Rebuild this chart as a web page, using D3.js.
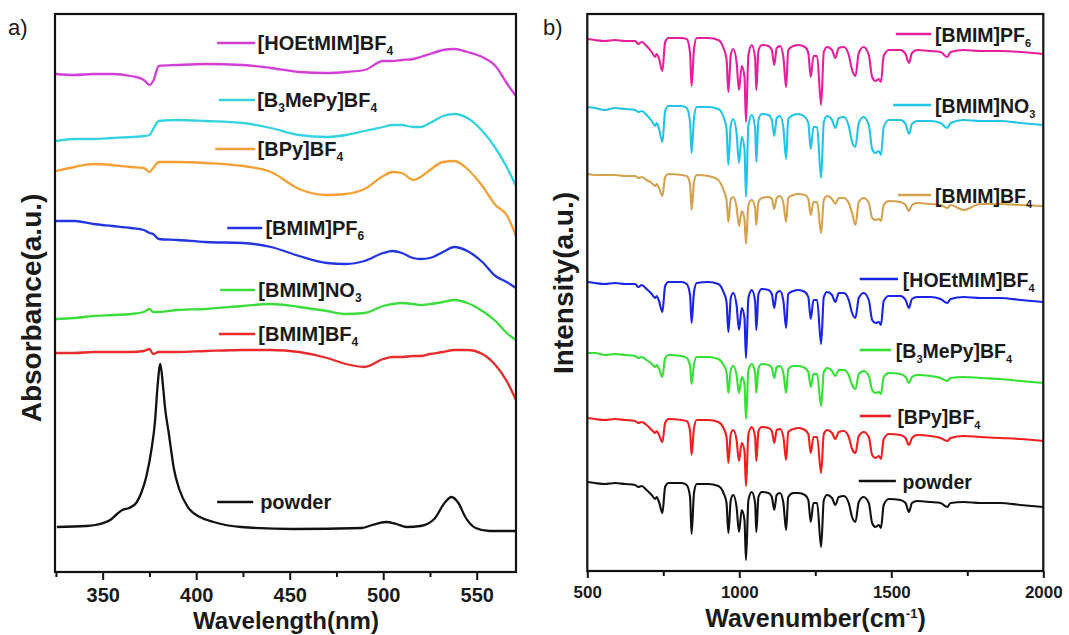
<!DOCTYPE html>
<html><head><meta charset="utf-8">
<script src="https://cdn.jsdelivr.net/npm/d3@7"></script>
<style>
body{margin:0;background:#fff}
svg text{font-family:"Liberation Sans",Arial,Helvetica,sans-serif;fill:#1a1a1a}
</style>
</head><body>
<svg id="c" width="1069" height="635"></svg>
<script>
// ---------- Panel a : UV-vis absorbance (offset spectra) ----------
const uvWavelength = [325,335,345,355,365,372,375,377,380,390,405,425,440,455,470,480,490,500,505,510,516,520,525,532,538,545,553,560,566,571];
const uvHOEtMIM = [49.8,49.7,49.8,49.8,49.6,49.2,48.7,49.1,50.6,50.7,50.8,50.7,50.4,50.0,49.9,50.0,50.2,51.1,51.1,51.2,51.3,51.5,51.8,52.2,52.3,52.0,51.5,50.6,48.9,47.6];
const uvB3MePy = [43.1,43.3,43.3,43.4,43.5,43.6,43.7,44.3,45.1,45.2,45.1,44.9,44.4,43.7,43.5,43.7,44.1,44.5,44.7,44.7,44.5,44.5,44.9,45.6,45.8,45.4,44.1,42.4,40.5,38.6];
const uvBPy = [40.1,40.5,40.8,40.7,40.5,40.4,40.0,40.4,41.0,41.0,40.9,40.6,40.0,38.3,37.7,37.8,38.3,39.6,40.0,39.9,39.2,39.5,40.2,41.0,41.1,40.3,38.6,36.7,35.7,33.6];
const uvBMIMPF6 = [35.1,35.1,34.8,34.6,34.4,34.2,33.9,33.8,33.3,33.2,33.0,32.9,32.5,31.6,30.9,30.8,31.1,31.9,32.1,31.9,31.4,31.3,31.4,32.0,32.5,32.1,31.0,29.6,29.0,28.4];
const uvBMIMNO3 = [25.3,25.4,25.6,25.7,25.8,26.0,26.3,26.0,26.0,26.2,26.3,26.6,26.8,26.5,26.1,25.8,25.9,26.6,26.8,26.9,26.8,26.7,26.8,27.0,27.2,26.9,26.1,25.1,23.9,23.2];
const uvBMIMBF4 = [21.9,21.9,22.0,22.0,22.0,22.1,22.3,21.8,22.0,22.0,22.1,22.2,22.2,22.0,21.4,20.8,20.5,21.3,21.5,21.5,21.6,21.6,21.8,22.0,22.2,22.2,21.8,20.7,19.1,17.2];
const powderWavelength = [325.5,341,348.5,354,357.7,360.5,364.2,367.9,370.6,373.4,376.2,378,379.3,380.8,382.3,383.3,385.4,388.1,390.9,395.5,402,409.3,424,452,488.6,494.1,501.5,507,512.6,519.9,527.3,532.8,536.5,540.2,543.9,549.4,556.8,571];
const powderAbs = [4.5,4.6,4.8,5.2,5.8,6.2,6.4,6.9,7.9,9.6,12.4,15.1,18.5,20.8,18.5,16.5,13.8,10.3,8.3,6.5,5.5,5.0,4.5,4.3,4.4,4.7,5.0,4.8,4.5,4.6,5.3,6.9,7.5,6.9,5.5,4.4,4.1,4.1];
const uvTicks = [350,400,450,500,550];
const uvMinorTicks = [325,375,425,475,525];

// ---------- Panel b : FTIR (offset spectra) ----------
const irWavenumber = [500,525,558,591,624,657,668,679,695,712,723,728,736,747,756,767,810,827,838,843,851,860,898,931,948,958,964,972,980,991,999,1008,1017,1022,1030,1041,1052,1056,1063,1074,1096,1107,1115,1123,1134,1145,1154,1161,1178,1194,1216,1227,1235,1244,1256,1269,1278,1289,1305,1316,1327,1344,1360,1371,1382,1393,1409,1426,1437,1448,1459,1466,1475,1492,1530,1547,1558,1568,1585,1629,1662,1684,1695,1738,1793,1859,1925,2000];
const irBMIMPF6 = [53.2,53.1,53.0,53.1,53.0,53.0,52.7,52.9,52.5,51.9,51.4,51.7,51.2,50.0,52.9,53.3,53.3,53.2,51.8,48.5,52.2,53.3,53.3,53.1,52.3,51.2,47.9,51.6,52.2,50.9,48.1,50.5,49.4,44.9,51.6,52.6,51.3,48.1,52.0,52.6,52.5,52.1,50.6,52.3,52.5,51.4,48.4,52.1,52.5,52.6,52.4,51.8,49.4,51.5,51.5,46.6,51.9,52.4,52.1,51.3,52.3,52.4,51.6,50.1,49.5,51.8,52.4,51.6,49.4,49.0,49.2,48.9,51.5,52.1,52.1,51.7,50.8,51.8,52.1,52.0,51.9,51.4,51.9,52.1,52.0,52.0,51.9,51.7];
const irBMIMNO3 = [46.4,46.3,46.1,46.3,46.2,46.1,45.9,46.0,45.6,45.0,44.5,44.8,44.2,42.9,46.0,46.5,46.5,46.3,44.9,41.8,45.3,46.4,46.4,46.2,45.4,44.2,40.6,44.6,45.2,43.8,40.8,43.4,42.2,37.4,44.6,45.6,44.3,40.9,45.1,45.7,45.6,45.1,43.5,45.3,45.5,44.3,41.2,45.2,45.6,45.7,45.4,44.8,42.2,44.4,44.4,39.3,44.9,45.5,45.1,44.3,45.3,45.4,44.5,42.9,42.4,44.8,45.4,44.6,42.2,41.8,42.0,41.6,44.4,45.1,45.1,44.7,43.7,44.7,45.0,45.0,44.8,44.3,44.8,45.1,45.0,45.0,44.8,44.6];
const irBMIMBF4 = [39.7,39.6,39.6,39.6,39.5,39.5,39.3,39.4,39.1,38.8,38.5,38.7,38.3,37.5,39.4,39.7,39.6,39.5,38.7,36.1,38.9,39.6,39.5,39.1,38.1,37.1,34.9,37.2,37.4,36.4,34.5,36.0,35.2,32.7,36.6,37.1,36.3,34.6,36.9,37.3,37.4,37.2,36.2,37.3,37.5,36.8,34.9,37.3,37.6,37.7,37.6,37.2,35.6,36.9,36.9,33.8,37.1,37.5,37.2,36.7,37.3,37.3,36.8,35.8,34.6,36.9,37.3,36.8,35.3,35.1,35.2,35.0,36.6,37.0,36.9,36.6,36.0,36.6,36.8,36.7,36.6,36.3,36.6,36.1,36.7,36.7,36.6,36.5];
const irHOEtMIM = [28.9,28.8,28.7,28.8,28.7,28.7,28.4,28.6,28.2,27.7,27.3,27.5,27.0,25.9,28.5,28.9,28.9,28.7,27.6,24.8,27.9,28.8,28.9,28.7,27.9,26.9,23.9,27.3,27.8,26.6,24.1,26.3,25.3,21.3,27.3,28.1,27.0,24.1,27.7,28.2,28.1,27.7,26.3,27.8,28.0,27.0,24.3,27.7,28.0,28.1,27.9,27.4,25.2,27.1,27.1,22.7,27.4,27.9,27.6,26.9,27.8,27.8,27.1,25.8,25.3,27.3,27.8,27.1,25.1,24.8,24.9,24.6,27.0,27.5,27.5,27.1,26.3,27.2,27.4,27.4,27.2,26.8,27.2,27.4,27.3,27.3,27.1,26.9];
const irB3MePy = [21.8,21.8,21.6,21.7,21.6,21.5,21.3,21.4,21.1,20.7,20.4,20.6,20.2,19.4,21.3,21.6,21.5,21.3,20.5,18.7,20.7,21.4,21.4,21.2,20.6,19.9,17.8,20.1,20.5,19.6,17.8,19.4,18.7,15.2,20.1,20.7,19.8,17.8,20.3,20.7,20.6,20.3,19.3,20.4,20.5,19.8,17.8,20.2,20.5,20.5,20.3,19.9,18.4,19.7,19.7,16.5,19.9,20.3,20.0,19.5,20.1,20.1,19.6,18.6,18.2,19.7,20.0,19.5,18.1,17.8,17.9,17.7,19.4,19.8,19.7,19.4,18.8,19.4,19.6,19.5,19.3,19.0,19.3,19.4,19.3,19.2,19.0,18.8];
const irBPy = [15.3,15.2,15.1,15.2,15.1,15.0,14.8,14.9,14.6,14.1,13.8,14.0,13.6,12.9,14.8,15.2,15.1,15.0,14.0,11.6,14.3,15.1,15.1,14.9,14.3,13.4,10.8,13.7,14.1,13.1,11.0,12.8,12.0,8.5,13.7,14.4,13.4,11.0,14.0,14.4,14.3,14.0,12.8,14.1,14.2,13.4,11.1,13.9,14.2,14.3,14.1,13.7,11.8,13.4,13.4,9.8,13.7,14.1,13.8,13.2,13.9,14.0,13.4,12.2,11.8,13.5,13.9,13.4,11.6,11.3,11.5,11.2,13.2,13.7,13.6,13.3,12.6,13.3,13.6,13.5,13.3,13.0,13.3,13.5,13.4,13.3,13.2,13.0];
const irPowder = [8.9,8.8,8.7,8.8,8.7,8.6,8.4,8.5,8.1,7.6,7.2,7.4,6.9,5.8,8.4,8.8,8.8,8.6,7.4,3.7,7.8,8.7,8.7,8.5,7.8,6.8,3.8,7.1,7.6,6.4,3.9,6.1,5.1,1.1,7.1,7.9,6.8,3.9,7.4,7.9,7.8,7.4,6.1,7.6,7.8,6.8,4.1,7.4,7.8,7.8,7.6,7.1,4.9,6.8,6.8,2.4,7.1,7.6,7.3,6.6,7.4,7.5,6.8,5.4,4.9,6.9,7.4,6.8,4.8,4.4,4.6,4.3,6.6,7.2,7.1,6.8,5.9,6.8,7.0,6.9,6.8,6.4,6.8,6.9,6.8,6.8,6.6,6.4];
const irTicks = [500,1000,1500,2000];
const irMinorTicks = [750,1250,1750];

// ---------- series tables built from the arrays ----------
const uvSeries = [
  {label:"[HOEtMIM]BF_4", x:uvWavelength, y:uvHOEtMIM, color:"#d23fd6"},
  {label:"[B_3MePy]BF_4", x:uvWavelength, y:uvB3MePy, color:"#35d3df"},
  {label:"[BPy]BF_4", x:uvWavelength, y:uvBPy, color:"#f4a034"},
  {label:"[BMIM]PF_6", x:uvWavelength, y:uvBMIMPF6, color:"#2235e0"},
  {label:"[BMIM]NO_3", x:uvWavelength, y:uvBMIMNO3, color:"#3ddc3d"},
  {label:"[BMIM]BF_4", x:uvWavelength, y:uvBMIMBF4, color:"#ea2b2b"},
  {label:"powder", x:powderWavelength, y:powderAbs, color:"#111111"}
];
const irSeries = [
  {label:"[BMIM]PF_6", y:irBMIMPF6, color:"#e61e9c"},
  {label:"[BMIM]NO_3", y:irBMIMNO3, color:"#22c4e6"},
  {label:"[BMIM]BF_4", y:irBMIMBF4, color:"#d4a24f"},
  {label:"[HOEtMIM]BF_4", y:irHOEtMIM, color:"#1a24e6"},
  {label:"[B_3MePy]BF_4", y:irB3MePy, color:"#33e033"},
  {label:"[BPy]BF_4", y:irBPy, color:"#f01e1e"},
  {label:"powder", y:irPowder, color:"#111111"}
];

// ---------- layout ----------
const svg = d3.select("#c");
const A = {l:55, r:516, t:14, b:572};
const B = {l:587.3, r:1043.3, t:14, b:571};
const xA = d3.scaleLinear().domain([324.5, 571]).range([A.l, A.r]);
const yA = d3.scaleLinear().domain([0, 55.8]).range([A.b, A.t]);
const xB = d3.scaleLinear().domain([500, 2000]).range([B.l, B.r]);
const yB = d3.scaleLinear().domain([0, 55.7]).range([B.b, B.t]);

// legend placement (data units): [x1, x2, y, textX]
const uvLegendPos = [[411.2,431.6,52.9,432.8],[412.1,431.5,47.2,432.6],[410.2,431.6,42.3,432.8],[416.6,435.3,34.4,437.0],[412.8,431.6,28.2,433.2],[412.1,431.5,23.8,433.2],[411.2,430.5,7.0,434.2]];
const irLegendPos = [[1515,1631,53.7,1644],[1506,1631,46.6,1644],[1522,1631,37.6,1644],[1396,1522,29.2,1538],[1396,1499,22.1,1515],[1396,1499,15.5,1520],[1393,1515,9.0,1537]];

const defs = svg.append("defs");
defs.append("clipPath").attr("id","clipA").append("rect").attr("x",A.l).attr("y",A.t).attr("width",A.r-A.l).attr("height",A.b-A.t);
defs.append("clipPath").attr("id","clipB").append("rect").attr("x",B.l).attr("y",B.t).attr("width",B.r-B.l).attr("height",B.b-B.t);

function addLabel(g, str, x, y, size, subSize){
  const t = g.append("text").attr("x",x).attr("y",y).attr("font-size",size).attr("font-weight","bold");
  const parts = str.split(/_(\d)/);
  let shifted = false;
  parts.forEach((p,i)=>{
    if(!p) return;
    const ts = t.append("tspan").text(p);
    if(i%2===1){ ts.attr("font-size",subSize).attr("dy",5); shifted = true; }
    else if(shifted){ ts.attr("dy",-5); shifted = false; }
  });
}

// ---------- Panel a ----------
const gA = svg.append("g");
const lineA = d3.line().x(d=>xA(d[0])).y(d=>yA(d[1])).curve(d3.curveMonotoneX);
const curvesA = gA.append("g").attr("clip-path","url(#clipA)");
uvSeries.forEach(s=>{
  curvesA.append("path").datum(d3.zip(s.x, s.y)).attr("d",lineA)
    .attr("fill","none").attr("stroke",s.color).attr("stroke-width",2.3).attr("stroke-linejoin","round");
});
uvSeries.forEach((s,i)=>{
  const p = uvLegendPos[i];
  gA.append("line").attr("x1",xA(p[0])).attr("x2",xA(p[1])).attr("y1",yA(p[2])).attr("y2",yA(p[2]))
    .attr("stroke",s.color).attr("stroke-width",2.6);
  addLabel(gA, s.label, xA(p[3]), yA(p[2])+7, 20, 12);
});
gA.append("rect").attr("x",A.l).attr("y",A.t).attr("width",A.r-A.l).attr("height",A.b-A.t)
  .attr("fill","none").attr("stroke","#111").attr("stroke-width",2.2);
const axA = gA.append("g").attr("transform",`translate(0,${A.b})`)
  .call(d3.axisBottom(xA).tickValues(uvTicks).tickFormat(d3.format("d")).tickSize(8).tickPadding(8).tickSizeOuter(0));
axA.select(".domain").remove();
axA.selectAll("line").attr("stroke","#111").attr("stroke-width",2);
axA.selectAll("text").attr("font-size",20).attr("font-weight","bold").attr("fill","#222")
  .style("font-family","'Liberation Sans',Arial,sans-serif");
const axAm = gA.append("g").attr("transform",`translate(0,${A.b})`)
  .call(d3.axisBottom(xA).tickValues(uvMinorTicks).tickSize(5).tickFormat("").tickSizeOuter(0));
axAm.select(".domain").remove();
axAm.selectAll("line").attr("stroke","#111").attr("stroke-width",2);
gA.append("text").attr("x",(A.l+A.r)/2+0.5).attr("y",628.5).attr("text-anchor","middle")
  .attr("font-size",24).attr("font-weight","bold").text("Wavelength(nm)");
gA.append("text").attr("transform","translate(41,308) rotate(-90)").attr("text-anchor","middle")
  .attr("font-size",28).attr("font-weight","bold").text("Absorbance(a.u.)");
gA.append("text").attr("x",8).attr("y",35).attr("font-size",22).text("a)");

// ---------- Panel b ----------
const gB = svg.append("g");
const lineB = d3.line().x(d=>xB(d[0])).y(d=>yB(d[1])).curve(d3.curveMonotoneX);
const curvesB = gB.append("g").attr("clip-path","url(#clipB)");
irSeries.forEach(s=>{
  curvesB.append("path").datum(d3.zip(irWavenumber, s.y)).attr("d",lineB)
    .attr("fill","none").attr("stroke",s.color).attr("stroke-width",2.1).attr("stroke-linejoin","round");
});
irSeries.forEach((s,i)=>{
  const p = irLegendPos[i];
  gB.append("line").attr("x1",xB(p[0])).attr("x2",xB(p[1])).attr("y1",yB(p[2])).attr("y2",yB(p[2]))
    .attr("stroke",s.color).attr("stroke-width",2.6);
  addLabel(gB, s.label, xB(p[3]), yB(p[2])+8, 19.5, 11);
});
gB.append("rect").attr("x",B.l).attr("y",B.t).attr("width",B.r-B.l).attr("height",B.b-B.t)
  .attr("fill","none").attr("stroke","#111").attr("stroke-width",2.2);
const axB = gB.append("g").attr("transform",`translate(0,${B.b})`)
  .call(d3.axisBottom(xB).tickValues(irTicks).tickFormat(d3.format("d")).tickSize(7).tickPadding(8).tickSizeOuter(0));
axB.select(".domain").remove();
axB.selectAll("line").attr("stroke","#111").attr("stroke-width",2);
axB.selectAll("text").attr("font-size",17).attr("font-weight","bold").attr("fill","#222")
  .style("font-family","'Liberation Sans',Arial,sans-serif");
const axBm = gB.append("g").attr("transform",`translate(0,${B.b})`)
  .call(d3.axisBottom(xB).tickValues(irMinorTicks).tickSize(5).tickFormat("").tickSizeOuter(0));
axBm.select(".domain").remove();
axBm.selectAll("line").attr("stroke","#111").attr("stroke-width",2);
const xt = gB.append("text").attr("x",815.5).attr("y",627).attr("text-anchor","middle")
  .attr("font-size",25).attr("font-weight","bold");
xt.append("tspan").text("Wavenumber(cm");
xt.append("tspan").attr("font-size",13).attr("dy",-9).text("-1");
xt.append("tspan").attr("dy",9).text(")");
gB.append("text").attr("transform","translate(573,283) rotate(-90)").attr("text-anchor","middle")
  .attr("font-size",28).attr("font-weight","bold").text("Intensity(a.u.)");
gB.append("text").attr("x",543).attr("y",35).attr("font-size",22).text("b)");
</script>
</body></html>
